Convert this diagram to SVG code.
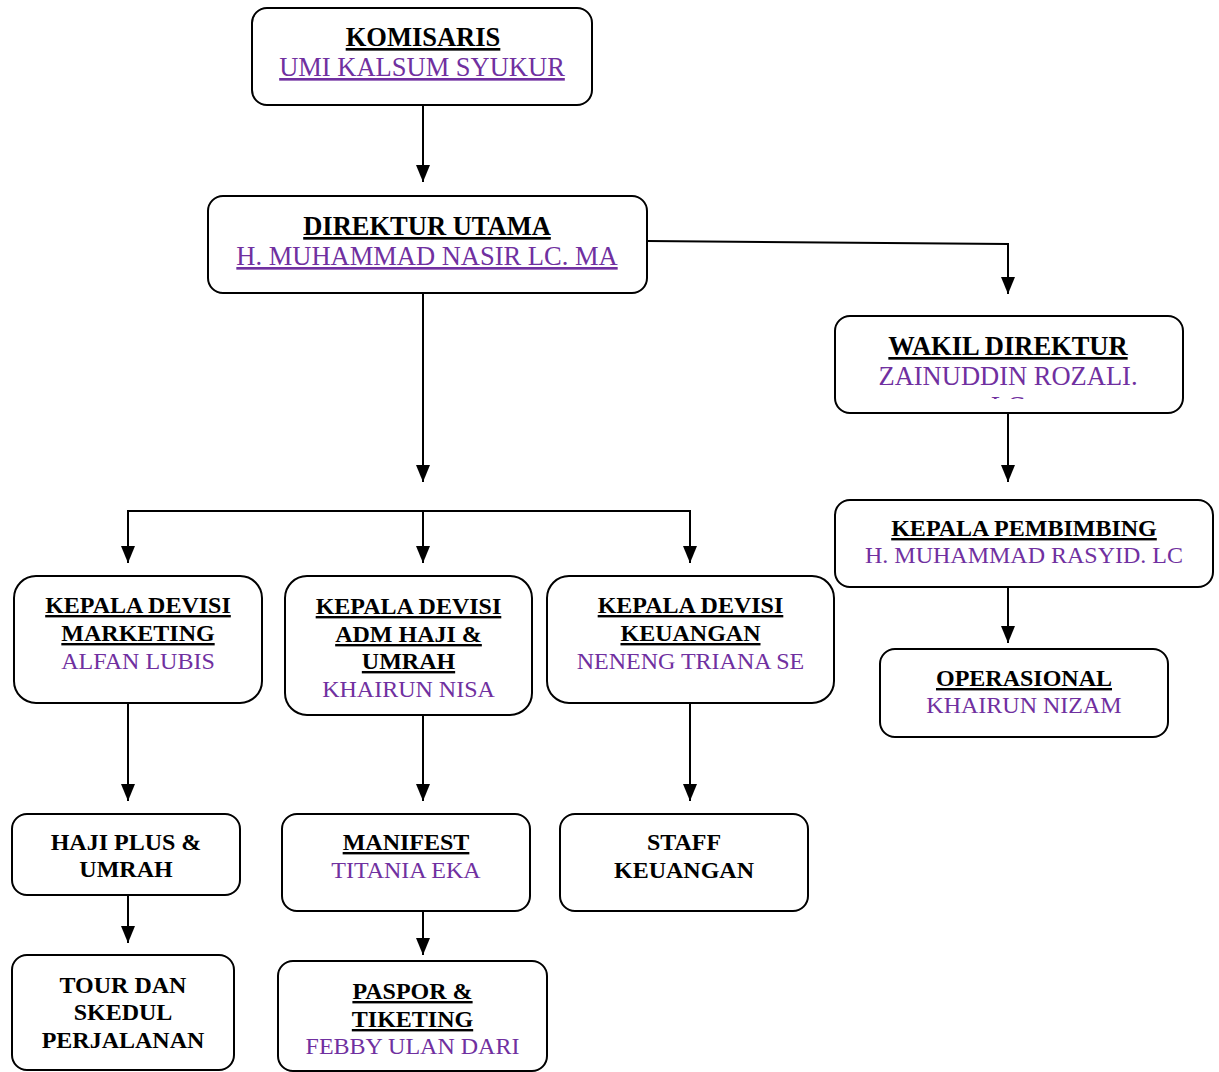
<svg xmlns="http://www.w3.org/2000/svg" width="1219" height="1072" viewBox="0 0 1219 1072">
<style>
.box{fill:#fff;stroke:#000;stroke-width:2}
text{font-family:"Liberation Serif","Times New Roman",serif;text-anchor:middle}
.t{font-weight:bold;font-size:24px;fill:#000}
.T{font-weight:bold;font-size:26.5px;fill:#000}
.n{font-size:24px;fill:#7030A0}
.N{font-size:26.5px;fill:#7030A0}
.u{text-decoration:underline}
.c{fill:none;stroke:#000;stroke-width:2}
</style>
<defs>
<marker id="ah" viewBox="0 0 17 14" refX="17" refY="7" markerWidth="17" markerHeight="14" markerUnits="userSpaceOnUse" orient="auto"><path d="M0,0 L17,7 L0,14 Z" fill="#000"/></marker>
<clipPath id="cw"><rect x="836" y="317" width="346" height="82"/></clipPath>
</defs>
<g id="connectors">
<path class="c" d="M423,105 V182" marker-end="url(#ah)"/>
<path class="c" d="M647,241 L1008,244 V294" marker-end="url(#ah)"/>
<path class="c" d="M423,293 V482" marker-end="url(#ah)"/>
<path class="c" d="M128,563 V511 H690 V563" marker-end="url(#ah)"/>
<path class="c" d="M128,511 V563" marker-end="url(#ah)"/>
<path class="c" d="M423,511 V563" marker-end="url(#ah)"/>
<path class="c" d="M1008,413 V482" marker-end="url(#ah)"/>
<path class="c" d="M1008,587 V643" marker-end="url(#ah)"/>
<path class="c" d="M128,703 V801" marker-end="url(#ah)"/>
<path class="c" d="M423,715 V801" marker-end="url(#ah)"/>
<path class="c" d="M690,703 V801" marker-end="url(#ah)"/>
<path class="c" d="M128,895 V943" marker-end="url(#ah)"/>
<path class="c" d="M423,911 V955" marker-end="url(#ah)"/>
</g>
<g id="komisaris">
<rect class="box" x="252" y="8" width="340" height="97" rx="15"/>
<text class="T u" x="423" y="46">KOMISARIS</text>
<text class="N u" x="422" y="76">UMI KALSUM SYUKUR</text>
</g>
<g id="direktur-utama">
<rect class="box" x="208" y="196" width="439" height="97" rx="15"/>
<text class="T u" x="427" y="235">DIREKTUR UTAMA</text>
<text class="N u" x="427" y="265">H. MUHAMMAD NASIR LC. MA</text>
</g>
<g id="wakil-direktur">
<rect class="box" x="835" y="316" width="348" height="97" rx="15"/>
<text class="T u" x="1008" y="355">WAKIL DIREKTUR</text>
<text class="N" x="1008" y="385">ZAINUDDIN ROZALI.</text>
<text class="N" x="1008" y="415" clip-path="url(#cw)">LC</text>
</g>
<g id="kepala-pembimbing">
<rect class="box" x="835" y="500" width="378" height="87" rx="15"/>
<text class="t u" x="1024" y="536">KEPALA PEMBIMBING</text>
<text class="n" x="1024" y="563">H. MUHAMMAD RASYID. LC</text>
</g>
<g id="operasional">
<rect class="box" x="880" y="649" width="288" height="88" rx="15"/>
<text class="t u" x="1024" y="686">OPERASIONAL</text>
<text class="n" x="1024" y="713">KHAIRUN NIZAM</text>
</g>
<g id="kepala-devisi-marketing">
<rect class="box" x="14" y="576" width="248" height="127" rx="22"/>
<text class="t u" x="138" y="613">KEPALA DEVISI</text>
<text class="t u" x="138" y="641">MARKETING</text>
<text class="n" x="138" y="669">ALFAN LUBIS</text>
</g>
<g id="kepala-devisi-adm">
<rect class="box" x="285" y="576" width="247" height="139" rx="22"/>
<text class="t u" x="408.5" y="614">KEPALA DEVISI</text>
<text class="t u" x="408.5" y="642">ADM HAJI &amp;</text>
<text class="t u" x="408.5" y="669">UMRAH</text>
<text class="n" x="408.5" y="697">KHAIRUN NISA</text>
</g>
<g id="kepala-devisi-keuangan">
<rect class="box" x="547" y="576" width="287" height="127" rx="22"/>
<text class="t u" x="690.5" y="613">KEPALA DEVISI</text>
<text class="t u" x="690.5" y="641">KEUANGAN</text>
<text class="n" x="690.5" y="669">NENENG TRIANA SE</text>
</g>
<g id="haji-plus">
<rect class="box" x="12" y="814" width="228" height="81" rx="15"/>
<text class="t" x="126" y="850">HAJI PLUS &amp;</text>
<text class="t" x="126" y="877">UMRAH</text>
</g>
<g id="manifest">
<rect class="box" x="282" y="814" width="248" height="97" rx="15"/>
<text class="t u" x="406" y="850">MANIFEST</text>
<text class="n" x="406" y="878">TITANIA EKA</text>
</g>
<g id="staff-keuangan">
<rect class="box" x="560" y="814" width="248" height="97" rx="15"/>
<text class="t" x="684" y="850">STAFF</text>
<text class="t" x="684" y="878">KEUANGAN</text>
</g>
<g id="tour">
<rect class="box" x="12" y="955" width="222" height="115" rx="15"/>
<text class="t" x="123" y="993">TOUR DAN</text>
<text class="t" x="123" y="1020">SKEDUL</text>
<text class="t" x="123" y="1048">PERJALANAN</text>
</g>
<g id="paspor">
<rect class="box" x="278" y="961" width="269" height="110" rx="15"/>
<text class="t u" x="412.5" y="999">PASPOR &amp;</text>
<text class="t u" x="412.5" y="1027">TIKETING</text>
<text class="n" x="412.5" y="1054">FEBBY ULAN DARI</text>
</g>
</svg>
